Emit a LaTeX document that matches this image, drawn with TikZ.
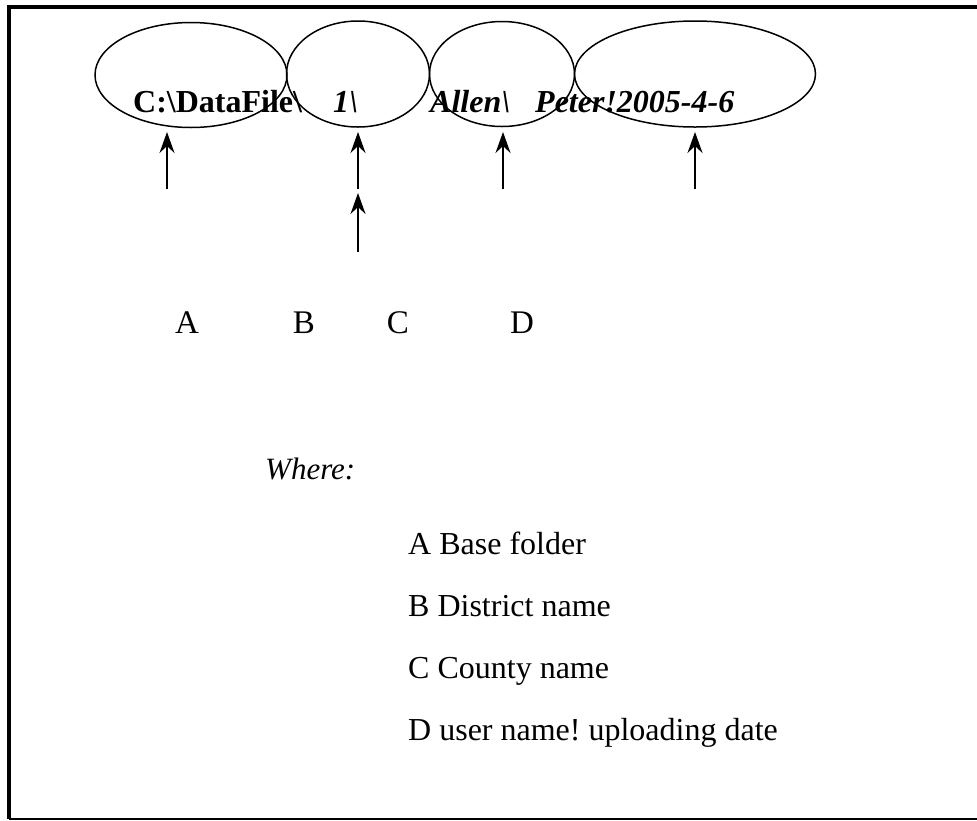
\documentclass[tikz,border=0pt]{standalone}
\usepackage{fontspec}
\setmainfont{Liberation Serif}
\usetikzlibrary{shapes.geometric,arrows.meta}
\frenchspacing
\begin{document}
\begin{tikzpicture}[x=1pt,y=-1pt]
        \useasboundingbox (0,0) rectangle (977,820);
        % frame
        \coordinate (fbl) at (9,819);
        \coordinate (ftl) at (9,7);
        \coordinate (ftr) at (977,7);
        \coordinate (fbr) at (977,819);
        \draw[line width=4pt] (fbl) -- (ftl) -- (ftr);
        \draw[line width=1.5pt] (fbl) -- (fbr);
        \begin{scope}[every node/.style={ellipse,draw,line width=1.5pt,inner sep=0pt}]
        \node[minimum width=192pt,minimum height=105pt] (base) at (191,75) {};
        \node[minimum width=143pt,minimum height=106pt] (district) at (358,74) {};
        \node[minimum width=145pt,minimum height=105pt] (county) at (502,74) {};
        \node[minimum width=241pt,minimum height=106pt] (user) at (695,74) {};
        \end{scope}
        \begin{scope}[every node/.style={anchor=base west,inner sep=0pt,font=\fontsize{32}{38}\selectfont\bfseries\itshape}]
        \node[font=\fontsize{32}{38}\selectfont\bfseries] (pbase) at (133,112) {C:\textbackslash DataFile\textbackslash};
        \node (pdistrict) at (333,112) {1\textbackslash};
        \node (pcounty) at (430,112) {Allen\textbackslash};
        \node (puser) at (535,112) {Peter!2005-4-6};
        \end{scope}
        \coordinate (a1s) at (167,189);
        \coordinate (a1e) at (167,132);
        \coordinate (a2s) at (358,189);
        \coordinate (a2e) at (358,132);
        \coordinate (a3s) at (358,252);
        \coordinate (a3e) at (358,193);
        \coordinate (a4s) at (503,189);
        \coordinate (a4e) at (503,132);
        \coordinate (a5s) at (695,189);
        \coordinate (a5e) at (695,132);
        \begin{scope}[every edge/.style={draw=black,line width=2pt,-{Stealth[length=21pt,width=15pt,inset=7pt]}}]
        \path (a1s) edge (a1e)
              (a2s) edge (a2e)
              (a3s) edge (a3e)
              (a4s) edge (a4e)
              (a5s) edge (a5e);
        \end{scope}
        \begin{scope}[every node/.style={anchor=base,inner sep=0pt,font=\fontsize{33}{39}\selectfont}]
        \node (la) at (187,333) {A};
        \node (lb) at (304,333) {B};
        \node (lc) at (398,333) {C};
        \node (ld) at (522,333) {D};
        \end{scope}
        \begin{scope}[every node/.style={anchor=base west,inner sep=0pt,font=\fontsize{32}{38}\selectfont}]
        \node[font=\fontsize{31}{37}\selectfont\itshape] (where) at (265,479) {Where:};
        \node (ka) at (408,554) {A Base folder};
        \node (kb) at (408,616) {B District name};
        \node (kc) at (408,678) {C County name};
        \node (kd) at (408,740) {D user name! uploading date};
        \end{scope}
\end{tikzpicture}
\end{document}
